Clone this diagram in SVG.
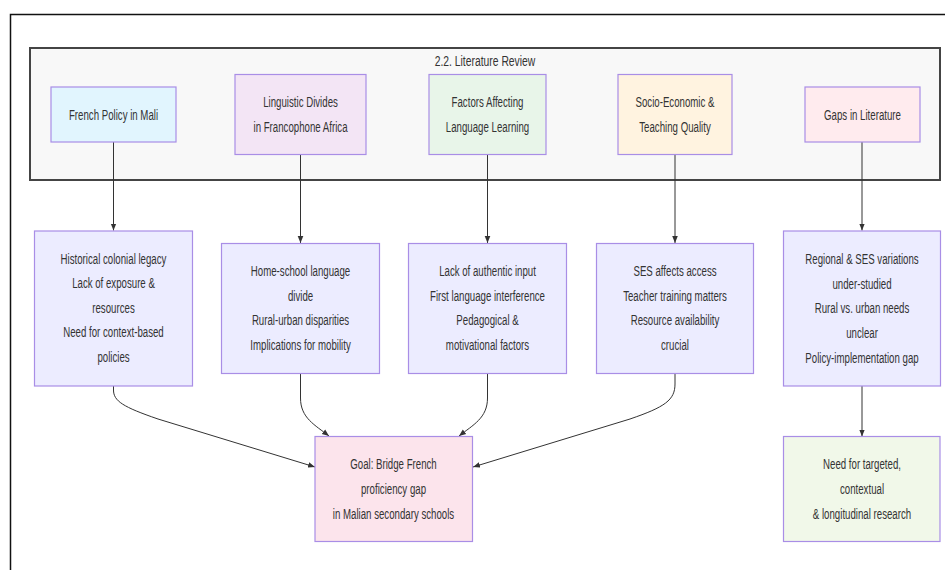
<svg xmlns="http://www.w3.org/2000/svg" width="945" height="570" viewBox="0 0 945 570">
<style>
  text { font-family: "Liberation Sans", Arial, sans-serif; font-size: 15px; fill: #333; text-anchor: middle; }
  .node rect { stroke: #a98ee6; stroke-width: 1.2; }
  .edge { fill: none; stroke: #333; stroke-width: 1; }
  .blue { fill: #e1f5fe; }
  .purple { fill: #f3e5f5; }
  .green { fill: #e8f5e9; }
  .orange { fill: #fff3e0; }
  .pink { fill: #ffebee; }
  .lav { fill: #ececff; }
  .goal { fill: #fce4ec; }
  .lime { fill: #f1f8e9; }
</style>
<defs>
  <marker id="arrow" viewBox="0 0 10 10" refX="10" refY="5" markerWidth="7" markerHeight="7" markerUnits="userSpaceOnUse" orient="auto">
    <path d="M0,1 L10,5 L0,9 z" fill="#333"/>
  </marker>
</defs>
<rect x="0" y="0" width="945" height="570" fill="#fff"/>
<!-- frame -->
<path d="M10.5,570 L10.5,14.5 L945,14.5" fill="none" stroke="#111" stroke-width="1.5"/>

<!-- subgraph -->
<g id="cluster">
  <rect x="30" y="48" width="910" height="132" fill="#f8f8f8" stroke="#444" stroke-width="2"/>
  <g transform="translate(485,0) scale(0.69,1)"><text x="0" y="66">2.2. Literature Review</text></g>
</g>

<!-- connectors -->
<g id="connectors">
  <path class="edge" d="M113.5,142 L113.5,230.5" marker-end="url(#arrow)"/>
  <path class="edge" d="M300.5,155 L300.5,243" marker-end="url(#arrow)"/>
  <path class="edge" d="M487.5,155 L487.5,243" marker-end="url(#arrow)"/>
  <path class="edge" d="M675,155 L675,243" marker-end="url(#arrow)"/>
  <path class="edge" d="M862,142 L862,230.5" marker-end="url(#arrow)"/>
  <path class="edge" d="M113.5,386 L113.5,390 C113.5,401 123,407 158,419 L315,467" marker-end="url(#arrow)"/>
  <path class="edge" d="M300.5,374 L300.5,398 C300.5,418 315,425 329,436" marker-end="url(#arrow)"/>
  <path class="edge" d="M487.5,374 L487.5,398 C487.5,418 473,425 459,436" marker-end="url(#arrow)"/>
  <path class="edge" d="M675,374 L675,384 C675,400 665,407 630,419 L473,467" marker-end="url(#arrow)"/>
  <path class="edge" d="M862,386 L862,436.5" marker-end="url(#arrow)"/>
</g>

<!-- top row -->
<g id="french" class="node">
  <rect class="blue" x="51" y="87" width="125" height="55"/>
  <g transform="translate(113.5,0) scale(0.645,1)"><text x="0" y="120">French Policy in Mali</text></g>
</g>
<g id="linguistic" class="node">
  <rect class="purple" x="235" y="74.5" width="131" height="80"/>
  <g transform="translate(300.5,0) scale(0.645,1)">
    <text x="0" y="107">Linguistic Divides</text>
    <text x="0" y="132">in Francophone Africa</text>
  </g>
</g>
<g id="factors" class="node">
  <rect class="green" x="429" y="74.5" width="117" height="80"/>
  <g transform="translate(487.5,0) scale(0.645,1)">
    <text x="0" y="107">Factors Affecting</text>
    <text x="0" y="132">Language Learning</text>
  </g>
</g>
<g id="socio" class="node">
  <rect class="orange" x="618" y="74.5" width="114" height="80"/>
  <g transform="translate(675,0) scale(0.645,1)">
    <text x="0" y="107">Socio-Economic &amp;</text>
    <text x="0" y="132">Teaching Quality</text>
  </g>
</g>
<g id="gaps" class="node">
  <rect class="pink" x="805" y="87" width="115" height="55"/>
  <g transform="translate(862.5,0) scale(0.645,1)"><text x="0" y="120">Gaps in Literature</text></g>
</g>

<!-- second row -->
<g id="french_detail" class="node">
  <rect class="lav" x="34.5" y="231" width="158" height="155"/>
  <g transform="translate(113.5,0) scale(0.645,1)">
    <text x="0" y="264">Historical colonial legacy</text>
    <text x="0" y="288.5">Lack of exposure &amp;</text>
    <text x="0" y="313">resources</text>
    <text x="0" y="337.5">Need for context-based</text>
    <text x="0" y="362">policies</text>
  </g>
</g>
<g id="linguistic_detail" class="node">
  <rect class="lav" x="221.5" y="243.5" width="158" height="130"/>
  <g transform="translate(300.5,0) scale(0.645,1)">
    <text x="0" y="276">Home-school language</text>
    <text x="0" y="301">divide</text>
    <text x="0" y="325">Rural-urban disparities</text>
    <text x="0" y="350">Implications for mobility</text>
  </g>
</g>
<g id="factors_detail" class="node">
  <rect class="lav" x="408.5" y="243.5" width="158" height="130"/>
  <g transform="translate(487.5,0) scale(0.645,1)">
    <text x="0" y="276">Lack of authentic input</text>
    <text x="0" y="301">First language interference</text>
    <text x="0" y="325">Pedagogical &amp;</text>
    <text x="0" y="350">motivational factors</text>
  </g>
</g>
<g id="socio_detail" class="node">
  <rect class="lav" x="596.5" y="243.5" width="157" height="130"/>
  <g transform="translate(675,0) scale(0.645,1)">
    <text x="0" y="276">SES affects access</text>
    <text x="0" y="301">Teacher training matters</text>
    <text x="0" y="325">Resource availability</text>
    <text x="0" y="350">crucial</text>
  </g>
</g>
<g id="gaps_detail" class="node">
  <rect class="lav" x="783.5" y="231" width="157" height="155"/>
  <g transform="translate(862,0) scale(0.645,1)">
    <text x="0" y="264">Regional &amp; SES variations</text>
    <text x="0" y="289">under-studied</text>
    <text x="0" y="313">Rural vs. urban needs</text>
    <text x="0" y="338">unclear</text>
    <text x="0" y="363">Policy-implementation gap</text>
  </g>
</g>

<!-- bottom row -->
<g id="goal" class="node">
  <rect class="goal" x="315" y="436.5" width="157.5" height="105"/>
  <g transform="translate(393.5,0) scale(0.645,1)">
    <text x="0" y="469.5">Goal: Bridge French</text>
    <text x="0" y="494.5">proficiency gap</text>
    <text x="0" y="519">in Malian secondary schools</text>
  </g>
</g>
<g id="need" class="node">
  <rect class="lime" x="783.5" y="436.5" width="156.5" height="105"/>
  <g transform="translate(862,0) scale(0.645,1)">
    <text x="0" y="469.5">Need for targeted,</text>
    <text x="0" y="494.5">contextual</text>
    <text x="0" y="519">&amp; longitudinal research</text>
  </g>
</g>
</svg>
